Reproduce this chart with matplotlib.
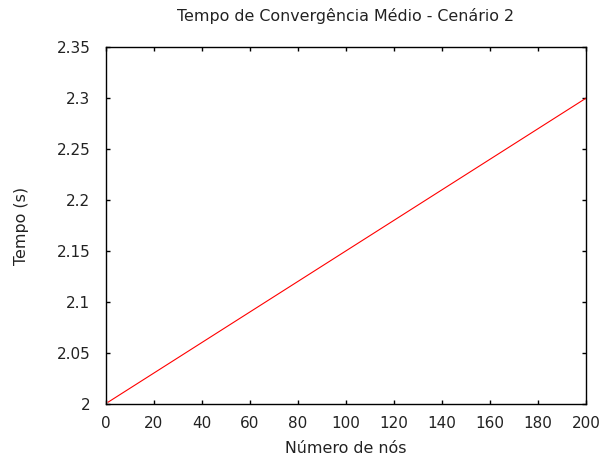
import matplotlib
matplotlib.use("Agg")
import matplotlib.pyplot as plt

# convergence time vs number of nodes (straight line in the original)
NODES = [1, 200]
TEMPO = [2.0015, 2.3]

X_TICKS = [0, 20, 40, 60, 80, 100, 120, 140, 160, 180, 200]
Y_TICKS = [2.0, 2.05, 2.1, 2.15, 2.2, 2.25, 2.3, 2.35]
Y_LABELS = ["2", "2.05", "2.1", "2.15", "2.2", "2.25", "2.3", "2.35"]

TXT = "#222222"

fig = plt.figure(figsize=(6.02, 4.59), dpi=100)
ax = fig.add_axes([0.1756, 0.1205, 0.7978, 0.7765])

ax.plot(NODES, TEMPO, color="red", lw=0.8)

ax.set_xlim(0, 200)
ax.set_ylim(2.0, 2.35)
ax.set_xticks(X_TICKS)
ax.set_yticks(Y_TICKS)
ax.set_yticklabels(Y_LABELS)
ax.tick_params(direction="in", length=3, width=1, labelsize=11, top=True, right=True,
               labeltop=False, labelright=False, labelcolor=TXT)
ax.tick_params(axis="y", pad=11)
ax.tick_params(axis="x", pad=9)
for s in ax.spines.values():
    s.set_linewidth(1)

ax.set_xlabel("Número de nós", fontsize=11.4, labelpad=7, color=TXT)
ax.set_ylabel("Tempo (s)", fontsize=11.4, labelpad=20, color=TXT)
ax.set_title("Tempo de Convergência Médio - Cenário 2", fontsize=11.4, pad=19, color=TXT)

fig.savefig("out.png", dpi=100)
